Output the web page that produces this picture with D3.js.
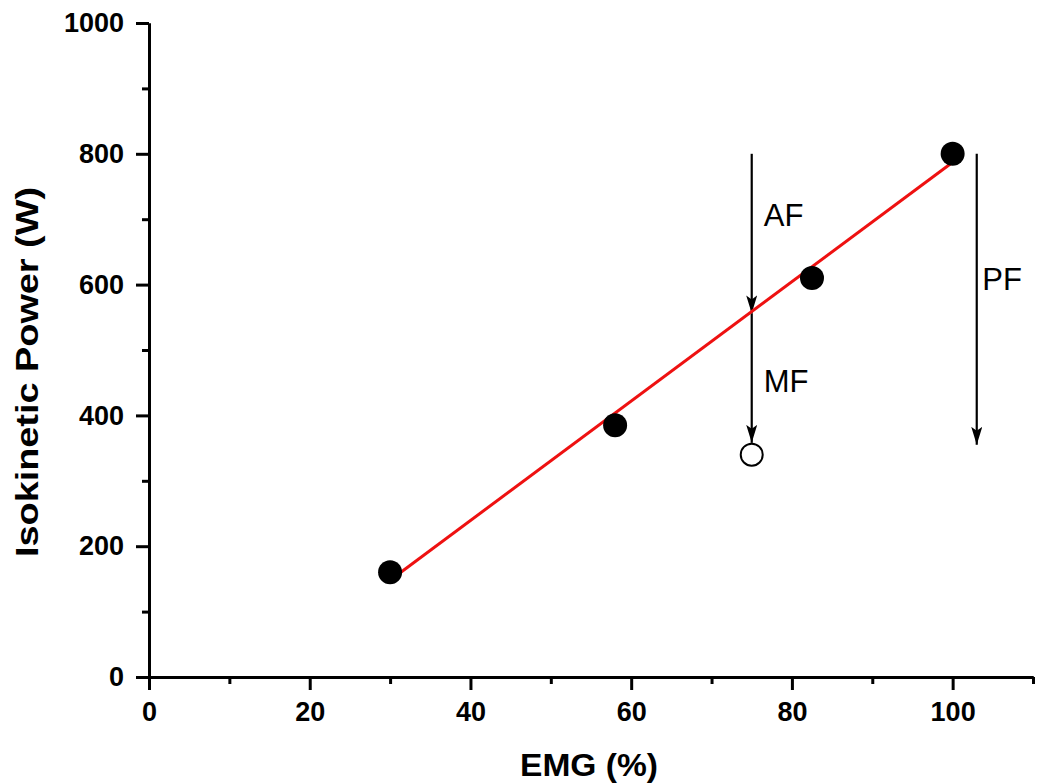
<!DOCTYPE html>
<html>
<head>
<meta charset="utf-8">
<script src="https://d3js.org/d3.v7.min.js"></script>
<style>
body { margin: 0; background: #fff; }
svg text { font-family: Arial, "Liberation Sans", sans-serif; }
.axis path, .axis line { stroke: #000; stroke-width: 3; }
.axis text { font-size: 27px; font-weight: bold; fill: #000; }
</style>
</head>
<body>
<div id="chart"></div>
<script>
// measured points
var emg = [30, 58, 82.5, 100];
var power = [160, 385, 610, 800];

// open point (MF end)
var openX = [75];
var openY = [340];

// fitted red line, end points
var fitX = [30, 100];
var fitY = [148, 787];

// arrows: x, from, to
var arrowX = [75, 75, 103];
var arrowFrom = [800, 556, 800];
var arrowTo = [556, 358, 355];

// annotation labels
var labelText = ["AF", "MF", "PF"];
var labelX = [76.5, 76.5, 103.7];
var labelY = [690, 436, 592];

var xMajor = [0, 20, 40, 60, 80, 100];
var xMinor = [10, 30, 50, 70, 90, 110];
var yMajor = [0, 200, 400, 600, 800, 1000];
var yMinor = [100, 300, 500, 700, 900];

var W = 1038, H = 784;
var margin = {top: 23, right: 5, bottom: 107, left: 149};
var width = W - margin.left - margin.right,
    height = H - margin.top - margin.bottom;

var svg = d3.select("#chart").append("svg")
    .attr("width", W)
    .attr("height", H);

var g = svg.append("g")
    .attr("transform", "translate(" + margin.left + "," + margin.top + ")");

var x = d3.scaleLinear().domain([0, 110]).range([0, width]);
var y = d3.scaleLinear().domain([0, 1000]).range([height, 0]);

// x axis
g.append("g").attr("class", "axis")
    .attr("transform", "translate(0," + height + ")")
    .call(d3.axisBottom(x).tickValues(xMinor).tickSize(7).tickSizeOuter(0).tickFormat(""));
g.append("g").attr("class", "axis")
    .attr("transform", "translate(0," + height + ")")
    .call(d3.axisBottom(x).tickValues(xMajor).tickSize(13).tickSizeOuter(0).tickPadding(12)
      .tickFormat(d3.format("d")));

// y axis
g.append("g").attr("class", "axis")
    .call(d3.axisLeft(y).tickValues(yMinor).tickSize(7).tickSizeOuter(0).tickFormat(""));
g.append("g").attr("class", "axis")
    .call(d3.axisLeft(y).tickValues(yMajor).tickSize(13).tickSizeOuter(0).tickPadding(12)
      .tickFormat(d3.format("d")));

// axis titles
svg.append("text")
    .attr("x", 589)
    .attr("y", 776)
    .attr("text-anchor", "middle")
    .attr("textLength", 138)
    .attr("lengthAdjust", "spacingAndGlyphs")
    .style("font-size", "32px")
    .style("font-weight", "bold")
    .text("EMG (%)");

svg.append("text")
    .attr("transform", "translate(38,372) rotate(-90)")
    .attr("text-anchor", "middle")
    .attr("textLength", 370)
    .attr("lengthAdjust", "spacingAndGlyphs")
    .style("font-size", "32px")
    .style("font-weight", "bold")
    .text("Isokinetic Power (W)");

// arrowhead
svg.append("defs").append("marker")
    .attr("id", "head")
    .attr("viewBox", "0 0 18 11")
    .attr("refX", 18).attr("refY", 5.5)
    .attr("markerWidth", 18).attr("markerHeight", 11)
    .attr("markerUnits", "userSpaceOnUse")
    .attr("orient", "auto")
  .append("path")
    .attr("d", "M0,0 L18,5.5 L0,11 L4,5.5 Z")
    .attr("fill", "#000");

g.selectAll(".arrow")
  .data(arrowX)
  .enter().append("line")
    .attr("class", "arrow")
    .attr("x1", function(d) { return x(d); })
    .attr("x2", function(d) { return x(d); })
    .attr("y1", function(d, i) { return y(arrowFrom[i]); })
    .attr("y2", function(d, i) { return y(arrowTo[i]); })
    .attr("stroke", "#000")
    .attr("stroke-width", 2.2)
    .attr("marker-end", "url(#head)");

// fitted line
g.append("line")
    .attr("x1", x(fitX[0])).attr("y1", y(fitY[0]))
    .attr("x2", x(fitX[1])).attr("y2", y(fitY[1]))
    .attr("stroke", "#ee1111")
    .attr("stroke-width", 3);

// measured points
g.selectAll(".pt")
  .data(emg)
  .enter().append("circle")
    .attr("class", "pt")
    .attr("cx", function(d) { return x(d); })
    .attr("cy", function(d, i) { return y(power[i]); })
    .attr("r", 12)
    .attr("fill", "#000");

g.selectAll(".open")
  .data(openX)
  .enter().append("circle")
    .attr("class", "open")
    .attr("cx", function(d) { return x(d); })
    .attr("cy", function(d, i) { return y(openY[i]); })
    .attr("r", 11)
    .attr("fill", "#fff")
    .attr("stroke", "#000")
    .attr("stroke-width", 2);

// labels
g.selectAll(".lbl")
  .data(labelText)
  .enter().append("text")
    .attr("class", "lbl")
    .attr("x", function(d, i) { return x(labelX[i]); })
    .attr("y", function(d, i) { return y(labelY[i]); })
    .style("font-size", "31px")
    .text(function(d) { return d; });
</script>
</body>
</html>
